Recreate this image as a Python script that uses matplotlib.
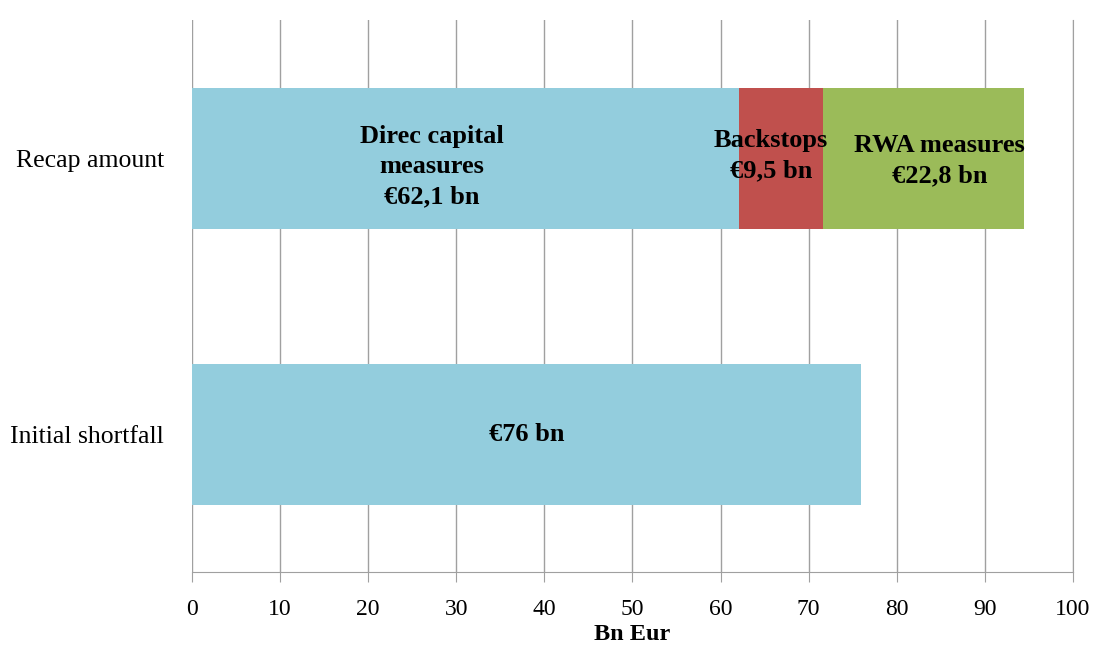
import matplotlib.pyplot as plt

plt.rcParams['font.family'] = ['Liberation Serif', 'DejaVu Serif']

categories = ['Initial shortfall', 'Recap amount']
direct = [76, 62.1]
backstops = [0, 9.5]
rwa = [0, 22.8]

labels_direct = ['€76 bn', 'Direc capital\nmeasures\n€62,1 bn']
label_backstops = 'Backstops\n€9,5 bn'
label_rwa = 'RWA measures\n€22,8 bn'

fig = plt.figure(figsize=(10.97, 6.51), dpi=100)
ax = fig.add_axes([0.175, 0.121, 0.803, 0.848])

y = [0, 1]
h = 0.51
ax.barh(y, direct, height=h, color='#93CDDD', zorder=2)
ax.barh(y, backstops, left=direct, height=h, color='#C0504D', zorder=2)
left2 = [a + b for a, b in zip(direct, backstops)]
ax.barh(y, rwa, left=left2, height=h, color='#9BBB59', zorder=2)

# text labels (positions roughly as in the source chart)
fs = 19
ax.text(38, 0, labels_direct[0], ha='center', va='center', fontsize=fs, fontweight='bold', zorder=3)
ax.text(27.2, 0.97, labels_direct[1], ha='center', va='center', fontsize=fs, fontweight='bold',
        linespacing=1.4, zorder=3)
ax.text(65.7, 1.01, label_backstops, ha='center', va='center', fontsize=fs, fontweight='bold',
        linespacing=1.4, zorder=3)
ax.text(84.9, 0.99, label_rwa, ha='center', va='center', fontsize=fs, fontweight='bold',
        linespacing=1.4, zorder=3)

ax.set_xlim(0, 100)
ax.set_ylim(-0.5, 1.5)
ax.set_xticks(range(0, 101, 10))
ax.set_yticks(y)
ax.set_yticklabels(categories, fontsize=18.5)
ax.tick_params(axis='x', labelsize=17, length=7, color='#A0A0A0', pad=12)
ax.tick_params(axis='y', length=0, pad=20)
ax.grid(axis='x', color='#A0A0A0', linewidth=1, zorder=0)
for s in ['top', 'left']:
    ax.spines[s].set_visible(False)
ax.spines['right'].set_color('#A0A0A0')
ax.spines['bottom'].set_color('#A0A0A0')
ax.set_xlabel('Bn Eur', fontsize=17.5, fontweight='bold', labelpad=3)

fig.savefig('out.png', dpi=100)
